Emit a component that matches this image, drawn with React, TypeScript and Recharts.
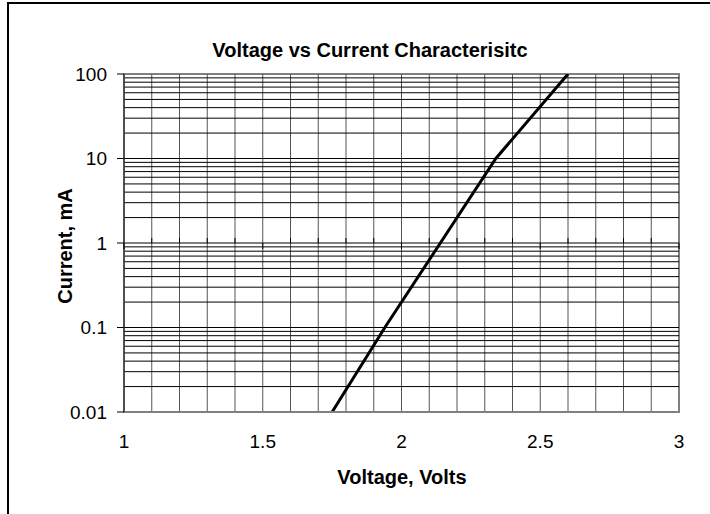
import React from "react"
import {
  LineChart,
  Line,
  XAxis,
  YAxis,
  ReferenceArea,
  ReferenceDot,
  ReferenceLine,
} from "recharts"

// readings (voltage in V, current in mA)
const voltage = [1.75, 1.94, 2.14, 2.34, 2.6]
const current = [0.01, 0.1, 1, 10, 100]

const xTicks = [1, 1.5, 2, 2.5, 3]
const yTicks = [0.01, 0.1, 1, 10, 100]
const xMinor = [1.1, 1.2, 1.3, 1.4, 1.6, 1.7, 1.8, 1.9, 2.1, 2.2, 2.3, 2.4, 2.6, 2.7, 2.8, 2.9]
const xGridLines = [1.1, 1.2, 1.3, 1.4, 1.5, 1.6, 1.7, 1.8, 1.9, 2, 2.1, 2.2, 2.3, 2.4, 2.5, 2.6, 2.7, 2.8, 2.9]
const yGridLines = [
  0.02, 0.03, 0.04, 0.05, 0.06, 0.07, 0.08, 0.09, 0.1,
  0.2, 0.3, 0.4, 0.5, 0.6, 0.7, 0.8, 0.9, 1,
  2, 3, 4, 5, 6, 7, 8, 9, 10,
  20, 30, 40, 50, 60, 70, 80, 90,
]

const data = voltage.map((v, i) => ({ v, i: current[i] }))

const font = "'Liberation Sans', Arial, sans-serif"

const minorTick = (p: any) => (
  <line x1={p.cx} x2={p.cx} y1={p.cy - 5} y2={p.cy} stroke="#000" strokeWidth={1} />
)
const majorTick = (p: any) => (
  <line x1={p.cx} x2={p.cx} y1={p.cy} y2={p.cy + 6} stroke="#000" strokeWidth={1} />
)

export default function App() {
  return (
    <div style={{ position: "absolute", left: 0, top: 0, width: 710, height: 514, background: "#fff", fontFamily: font }}>
      <div
        style={{
          position: "absolute",
          left: 7,
          top: 2,
          width: 703,
          height: 512,
          borderLeft: "2px solid #000",
          borderTop: "2px solid #000",
          boxSizing: "border-box",
        }}
      />
      <LineChart width={710} height={514} data={data} margin={{ top: 74, right: 31, bottom: 62, left: 0 }}>
        <XAxis
          type="number"
          dataKey="v"
          domain={[1, 3]}
          ticks={xTicks}
          tickLine={false}
          tickSize={0}
          tickMargin={23}
          axisLine={{ stroke: "#808080", strokeWidth: 2 }}
          tick={{ fill: "#000", fontSize: 19, fontFamily: font }}
          height={40}
        />
        <YAxis
          type="number"
          scale="log"
          domain={[0.01, 100]}
          ticks={yTicks}
          allowDataOverflow
          width={124}
          tickSize={7}
          tickMargin={10}
          tickLine={{ stroke: "#000" }}
          axisLine={{ stroke: "#404040", strokeWidth: 1.5 }}
          tick={{ fill: "#000", fontSize: 19, fontFamily: font }}
          tickFormatter={(t: number) => String(t)}
        />
        {xGridLines.map((g) => (
          <ReferenceLine key={`vx-${g}`} x={g} stroke="#555" strokeWidth={1} />
        ))}
        {yGridLines.map((g) => (
          <ReferenceLine key={`hy-${g}`} y={g} stroke="#000" strokeWidth={1} />
        ))}
        <ReferenceArea x1={1} x2={3} y1={0.01} y2={100} fill="none" stroke="#808080" strokeWidth={2} />
        {xMinor.map((t) => (
          <ReferenceDot key={`mn-${t}`} x={t} y={1} r={0} shape={minorTick} />
        ))}
        {xTicks.map((t) => (
          <ReferenceDot key={`mj-${t}`} x={t} y={1} r={0} shape={majorTick} />
        ))}
        <Line type="linear" dataKey="i" stroke="#000" strokeWidth={3} dot={false} isAnimationActive={false} />
      </LineChart>
      <svg width={710} height={514} style={{ position: "absolute", left: 0, top: 0, pointerEvents: "none" }}>
        <text x={370} y={57} textAnchor="middle" fontSize={20} fontWeight="bold" fontFamily={font} fill="#000">
          Voltage vs Current Characterisitc
        </text>
        <text x={402} y={484} textAnchor="middle" fontSize={20} fontWeight="bold" fontFamily={font} fill="#000">
          Voltage, Volts
        </text>
        <text
          transform="translate(72,246) rotate(-90)"
          textAnchor="middle"
          fontSize={20}
          fontWeight="bold"
          fontFamily={font}
          fill="#000"
        >
          Current, mA
        </text>
      </svg>
    </div>
  )
}
